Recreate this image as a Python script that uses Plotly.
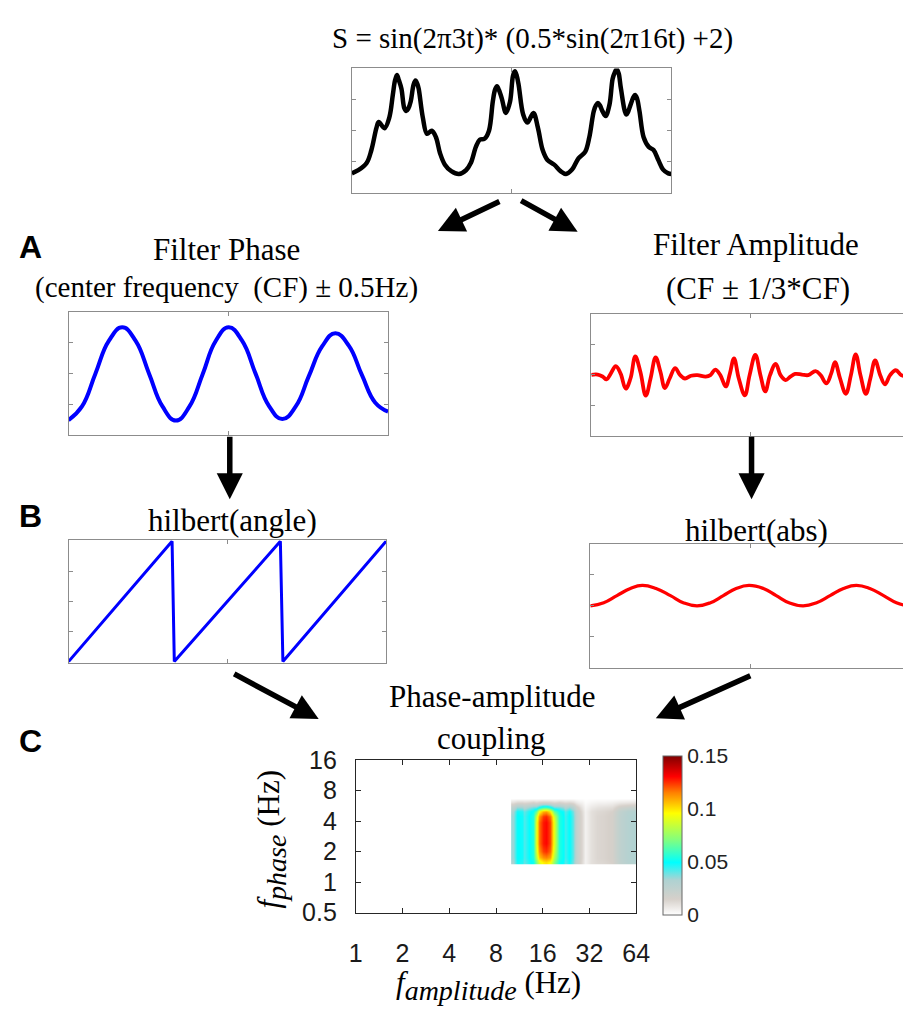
import numpy as np
import plotly.graph_objects as go

W, H = 917, 1021

# ---------------- data ----------------
sig_t = [0.000, 0.020, 0.046, 0.061, 0.077, 0.084, 0.102, 0.117, 0.128, 0.135, 0.141, 0.147, 0.155,
         0.164, 0.170, 0.176, 0.184, 0.193, 0.199, 0.205, 0.209, 0.222, 0.235, 0.250, 0.263, 0.276,
         0.291, 0.311, 0.335, 0.357, 0.372, 0.388, 0.400, 0.415, 0.429, 0.441, 0.448, 0.454, 0.460,
         0.469, 0.482, 0.495, 0.504, 0.510, 0.516, 0.522, 0.536, 0.549, 0.568, 0.582, 0.597, 0.612,
         0.633, 0.653, 0.670, 0.689, 0.709, 0.730, 0.743, 0.757, 0.764, 0.770, 0.776, 0.784, 0.794,
         0.806, 0.816, 0.823, 0.829, 0.835, 0.842, 0.859, 0.872, 0.880, 0.886, 0.892, 0.900, 0.913,
         0.929, 0.944, 0.959, 0.974, 0.990, 1.000]
sig_v = [0.63, 0.73, 0.96, 1.38, 2.10, 2.28, 2.08, 2.42, 3.15, 3.62, 3.79, 3.62, 3.35,
         2.72, 2.63, 2.70, 2.94, 3.48, 3.61, 3.50, 3.35, 2.42, 1.90, 2.00, 1.79, 1.27,
         0.91, 0.70, 0.61, 0.73, 0.96, 1.48, 1.71, 1.74, 2.00, 2.94, 3.32, 3.43, 3.31,
         3.04, 2.57, 2.94, 3.76, 3.91, 3.76, 3.46, 2.52, 2.26, 2.57, 2.10, 1.38, 1.06,
         0.91, 0.70, 0.61, 0.75, 1.11, 1.32, 1.79, 2.63, 2.82, 2.89, 2.82, 2.63, 2.47,
         2.83, 3.67, 3.88, 3.98, 3.84, 3.35, 2.52, 2.83, 3.06, 3.15, 3.05, 2.63, 1.79,
         1.48, 1.38, 1.06, 0.75, 0.63, 0.61]

phase_t = [0.000, 0.042, 0.084, 0.126, 0.168, 0.210, 0.252, 0.294, 0.336, 0.378, 0.420, 0.460,
           0.501, 0.543, 0.585, 0.627, 0.669, 0.711, 0.752, 0.794, 0.835, 0.877, 0.918, 0.960, 1.000]
phase_v = [0.49, 0.93, 1.99, 3.05, 3.49, 3.05, 1.99, 0.93, 0.47, 0.92, 1.98, 3.04,
           3.49, 3.06, 2.00, 0.95, 0.52, 0.93, 1.91, 2.88, 3.30, 2.90, 1.95, 1.05, 0.76]

amp_t = [0.000, 0.020, 0.036, 0.048, 0.061, 0.077, 0.092, 0.108, 0.123, 0.138, 0.154, 0.171,
         0.186, 0.202, 0.217, 0.231, 0.246, 0.263, 0.279, 0.294, 0.313, 0.333, 0.359, 0.374,
         0.389, 0.405, 0.422, 0.435, 0.448, 0.463, 0.482, 0.497, 0.515, 0.531, 0.546, 0.561,
         0.579, 0.594, 0.610, 0.625, 0.640, 0.661, 0.681, 0.704, 0.720, 0.738, 0.753, 0.765,
         0.781, 0.799, 0.815, 0.830, 0.845, 0.862, 0.876, 0.891, 0.907, 0.922, 0.938, 0.956,
         0.973, 0.985]
amp_v = [2.00, 2.01, 1.94, 1.85, 2.04, 2.28, 2.04, 1.55, 1.88, 2.60, 2.10, 1.32,
         1.88, 2.57, 2.10, 1.57, 1.88, 2.22, 1.99, 1.88, 1.97, 1.99, 1.94, 1.99,
         2.17, 1.99, 1.62, 2.04, 2.54, 1.88, 1.33, 1.99, 2.65, 1.99, 1.46, 1.99,
         2.36, 1.99, 1.83, 1.94, 2.03, 2.01, 1.99, 2.12, 1.99, 1.72, 2.04, 2.41,
         1.88, 1.38, 1.99, 2.67, 1.99, 1.38, 1.88, 2.47, 1.99, 1.69, 1.99, 2.15,
         1.99, 1.95]

angle_t = [0.000, 0.326, 0.333, 0.667, 0.675, 1.000]
angle_v = [-3.14, 3.14, -3.14, 3.14, -3.14, 3.14]

env_t = [0.000, 0.042, 0.083, 0.125, 0.162, 0.205, 0.250, 0.290, 0.333, 0.375, 0.415, 0.455,
         0.495, 0.540, 0.580, 0.620, 0.664, 0.706, 0.748, 0.790, 0.830, 0.872, 0.915, 0.955, 0.985]
env_v = [2.00, 2.10, 2.33, 2.56, 2.66, 2.56, 2.33, 2.10, 2.00, 2.10, 2.33, 2.56,
         2.66, 2.56, 2.33, 2.10, 2.00, 2.10, 2.33, 2.56, 2.66, 2.56, 2.33, 2.10, 2.01]

pac_famp = [10.3, 10.9, 11.7, 12.2, 12.9, 13.8, 14.4, 15.2, 16.0, 16.8, 17.8, 18.9, 20.4, 21.5,
            22.4, 23.6, 25.0, 26.3, 27.3, 28.5, 30.0, 33.0, 36.0, 40.0, 45.0, 50.0, 57.0, 64.0]
pac_fphase = [1.58, 1.75, 2.0, 2.4, 2.8, 3.3, 3.9, 4.5, 5.0, 5.5, 6.1, 6.7]
pac_mi = [
    [0.033, 0.048, 0.046, 0.040, 0.046, 0.052, 0.070, 0.090, 0.098, 0.100, 0.095, 0.072, 0.052, 0.048, 0.041, 0.048, 0.038, 0.024, 0.017, 0.011, 0.004, 0.010, 0.012, 0.013, 0.015, 0.024, 0.029, 0.030],
    [0.035, 0.050, 0.048, 0.042, 0.048, 0.055, 0.080, 0.105, 0.113, 0.115, 0.110, 0.080, 0.055, 0.050, 0.043, 0.050, 0.040, 0.025, 0.018, 0.012, 0.004, 0.010, 0.013, 0.014, 0.016, 0.025, 0.030, 0.032],
    [0.035, 0.050, 0.048, 0.042, 0.048, 0.055, 0.086, 0.113, 0.123, 0.125, 0.118, 0.086, 0.055, 0.050, 0.043, 0.050, 0.040, 0.025, 0.018, 0.012, 0.004, 0.010, 0.013, 0.014, 0.016, 0.025, 0.030, 0.032],
    [0.035, 0.050, 0.048, 0.042, 0.048, 0.055, 0.090, 0.118, 0.128, 0.130, 0.122, 0.090, 0.055, 0.050, 0.043, 0.050, 0.040, 0.025, 0.018, 0.012, 0.004, 0.010, 0.013, 0.014, 0.016, 0.025, 0.030, 0.032],
    [0.035, 0.050, 0.048, 0.042, 0.048, 0.055, 0.090, 0.118, 0.128, 0.130, 0.122, 0.090, 0.055, 0.050, 0.043, 0.050, 0.040, 0.025, 0.018, 0.012, 0.004, 0.010, 0.013, 0.014, 0.016, 0.025, 0.030, 0.032],
    [0.035, 0.050, 0.048, 0.042, 0.048, 0.055, 0.090, 0.118, 0.128, 0.130, 0.122, 0.090, 0.055, 0.050, 0.043, 0.050, 0.040, 0.025, 0.018, 0.012, 0.004, 0.010, 0.013, 0.014, 0.016, 0.025, 0.030, 0.032],
    [0.035, 0.050, 0.048, 0.042, 0.048, 0.055, 0.090, 0.118, 0.128, 0.130, 0.122, 0.090, 0.055, 0.050, 0.043, 0.050, 0.040, 0.025, 0.018, 0.012, 0.004, 0.010, 0.013, 0.014, 0.016, 0.025, 0.030, 0.032],
    [0.035, 0.050, 0.048, 0.042, 0.048, 0.055, 0.085, 0.112, 0.124, 0.126, 0.117, 0.085, 0.055, 0.050, 0.043, 0.050, 0.040, 0.025, 0.018, 0.012, 0.004, 0.010, 0.013, 0.014, 0.016, 0.025, 0.030, 0.032],
    [0.033, 0.048, 0.046, 0.040, 0.046, 0.052, 0.065, 0.095, 0.108, 0.110, 0.098, 0.065, 0.052, 0.048, 0.041, 0.048, 0.038, 0.024, 0.017, 0.011, 0.004, 0.010, 0.012, 0.013, 0.015, 0.024, 0.029, 0.030],
    [0.025, 0.035, 0.034, 0.029, 0.034, 0.039, 0.040, 0.050, 0.060, 0.060, 0.052, 0.040, 0.039, 0.035, 0.030, 0.035, 0.028, 0.018, 0.013, 0.008, 0.003, 0.007, 0.009, 0.010, 0.011, 0.018, 0.021, 0.022],
    [0.010, 0.013, 0.013, 0.012, 0.013, 0.015, 0.013, 0.015, 0.016, 0.016, 0.015, 0.013, 0.015, 0.013, 0.012, 0.013, 0.011, 0.007, 0.005, 0.004, 0.001, 0.003, 0.004, 0.004, 0.005, 0.007, 0.008, 0.009],
    [0.000, 0.000, 0.000, 0.000, 0.000, 0.000, 0.000, 0.000, 0.000, 0.000, 0.000, 0.000, 0.000, 0.000, 0.000, 0.000, 0.000, 0.000, 0.000, 0.000, 0.000, 0.000, 0.000, 0.000, 0.000, 0.000, 0.000, 0.000],
]
pac_x_ticks = [1, 2, 4, 8, 16, 32, 64]
pac_y_ticks = [0.5, 1, 2, 4, 8, 16]
cbar_ticks = [0, 0.05, 0.1, 0.15]

# ---------------- helpers ----------------
def dom_x(p0, p1):
    return [max(0.0, p0 / W), min(1.0, p1 / W)]

def dom_y(p0, p1):
    return [1 - p1 / H, 1 - p0 / H]

SERIF = "Liberation Serif"
SANS = "Liberation Sans"
BOX = "#8c8c8c"

fig = go.Figure()

fig.add_trace(go.Scatter(x=sig_t, y=sig_v, mode="lines", line=dict(color="black", width=4.5, shape="spline", smoothing=1.0),
                         xaxis="x", yaxis="y"))
fig.add_trace(go.Scatter(x=phase_t, y=phase_v, mode="lines", line=dict(color="#0000ff", width=4, shape="spline", smoothing=1.3),
                         xaxis="x2", yaxis="y2"))
fig.add_trace(go.Scatter(x=amp_t, y=amp_v, mode="lines", line=dict(color="#ff0000", width=3.8, shape="spline", smoothing=1.1),
                         xaxis="x3", yaxis="y3"))
fig.add_trace(go.Scatter(x=angle_t, y=angle_v, mode="lines", line=dict(color="#0000ff", width=3),
                         xaxis="x4", yaxis="y4"))
fig.add_trace(go.Scatter(x=env_t, y=env_v, mode="lines", line=dict(color="#ff0000", width=3.3, shape="spline", smoothing=1.3),
                         xaxis="x5", yaxis="y5"))

colorscale = [[0.0, "#ffffff"], [0.1, "#d6d0ca"], [0.22, "#aed2d2"], [0.33, "#00ffff"],
              [0.47, "#80ff80"], [0.64, "#ffff00"], [0.77, "#ff8000"], [0.87, "#ff0000"], [1.0, "#800000"]]

fig.add_trace(go.Heatmap(
    x=np.log2(pac_famp), y=np.log2(pac_fphase), z=pac_mi, zmin=0, zmax=0.15,
    zsmooth="best", colorscale=colorscale, xaxis="x6", yaxis="y6",
    colorbar=dict(x=671 / W, xanchor="left", y=1 - 926 / H, yanchor="bottom",
                  len=159, lenmode="pixels", thickness=19, thicknessmode="pixels",
                  xpad=0, ypad=0, outlinecolor="#666666", outlinewidth=1,
                  tickvals=cbar_ticks, ticktext=["0", "0.05", "0.1", "0.15"],
                  ticks="", tickfont=dict(family=SANS, size=21, color="#222222")),
))

layout = dict(width=W, height=H, margin=dict(l=0, r=0, t=0, b=0),
              paper_bgcolor="white", plot_bgcolor="white", showlegend=False)


def small_axes(n, px0, px1, py0, py1, xr, yr, yticks, right_open=False):
    sx = "" if n == 1 else str(n)
    common = dict(showgrid=False, zeroline=False, showticklabels=False, ticks="inside", ticklen=4,
                  tickcolor=BOX, showline=True, linecolor=BOX, linewidth=1)
    layout["xaxis" + sx] = dict(domain=dom_x(px0, px1), range=xr, tickvals=[0.5], mirror="ticks",
                                anchor="y" + sx, **common)
    layout["yaxis" + sx] = dict(domain=dom_y(py0, py1), range=yr, tickvals=yticks,
                                mirror=False if right_open else "ticks", anchor="x" + sx, **common)


small_axes(1, 353, 680, 56, 184, [0, 1], [0, 4], [1, 2, 3])
small_axes(2, 63, 390, 306, 433, [0, 1], [0, 4], [1, 2, 3])
small_axes(3, 598, 924, 308, 434, [0, (W - 598) / (924 - 598)], [0, 4], [1, 2, 3], right_open=True)
small_axes(4, 63, 388, 541, 667, [0, 1], [-3.2, 3.2], [-1.5708, 0, 1.5708])
small_axes(5, 597, 925, 545, 672, [0, (W - 597) / (925 - 597)], [0, 4], [1, 2, 3], right_open=True)

PAC_LINE = "#262626"
pac_common = dict(showgrid=False, zeroline=False, ticks="inside", ticklen=5, tickcolor=PAC_LINE,
                  showline=True, linecolor=PAC_LINE, linewidth=1, mirror="ticks",
                  tickfont=dict(family=SANS, size=25, color="#1a1a1a"))
layout["xaxis6"] = dict(domain=dom_x(357, 644), range=[0, 6], anchor="y6",
                        tickvals=np.log2(pac_x_ticks), ticktext=[str(v) for v in pac_x_ticks],
                        ticklabelstandoff=18, **pac_common)
layout["yaxis6"] = dict(domain=dom_y(767, 924), range=[-1, 4], anchor="x6",
                        tickvals=np.log2(pac_y_ticks), ticktext=[str(v) for v in pac_y_ticks],
                        ticklabelstandoff=13, **pac_common)

fig.update_layout(**layout)

ann = []

def text(s, px, py, size, family=SERIF, bold=False, angle=0):
    if bold:
        s = "<b>" + s + "</b>"
    ann.append(dict(text=s, x=px / W, y=1 - py / H, xref="paper", yref="paper", showarrow=False,
                    xanchor="center", yanchor="middle", textangle=angle,
                    font=dict(family=family, size=size, color="black")))

text("S = sin(2\u03c03t)* (0.5*sin(2\u03c016t) +2)", 538, 25, 29)
text("Filter Phase", 225, 242, 31)
text("(center frequency  (CF) \u00b1 0.5Hz)", 225, 281, 29)
text("Filter Amplitude", 767, 237, 31)
text("(CF \u00b1 1/3*CF)", 769, 282, 31)
text("hilbert(angle)", 231, 521, 31)
text("hilbert(abs)", 767, 531, 31)
text("Phase-amplitude", 497, 702, 31)
text("coupling", 496, 745, 31)
text("A", 24, 240, 32, family=SANS, bold=True)
text("B", 24, 516, 32, family=SANS, bold=True)
text("C", 24, 748, 32, family=SANS, bold=True)
text("<i>f</i><sub><span style='font-size:28px'><i>phase</i></span></sub> (Hz)", 271, 848, 31, angle=-90)
text("<i>f</i><sub><span style='font-size:28px'><i>amplitude</i></span></sub> (Hz)", 493, 999, 31)


def arrow(tail, tip):
    ann.append(dict(text="", x=tip[0] / W, y=1 - tip[1] / H, xref="paper", yref="paper",
                    ax=tail[0] - tip[0], ay=tail[1] - tip[1], axref="pixel", ayref="pixel",
                    showarrow=True, arrowhead=2, arrowsize=0.95, arrowwidth=5.5, arrowcolor="black",
                    standoff=0))

arrow((504, 193), (441, 223))
arrow((526, 192), (584, 224))
arrow((228, 435), (228, 499))
arrow((762, 435), (762, 499))
arrow((233, 679), (319, 725))
arrow((760, 681), (664, 724))

fig.update_layout(annotations=ann)

fig.write_html("out.html")
